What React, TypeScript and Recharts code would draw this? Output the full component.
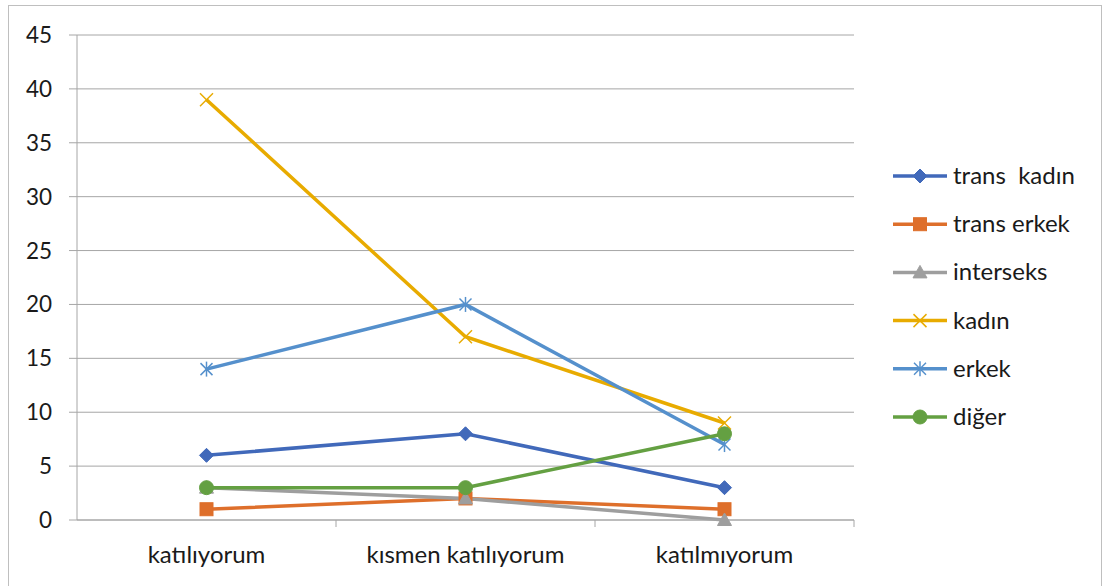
import React from 'react';
import { LineChart, Line, XAxis, YAxis, CartesianGrid } from 'recharts';

const categories = ['katılıyorum', 'kısmen katılıyorum', 'katılmıyorum'];
const yTicks = [0, 5, 10, 15, 20, 25, 30, 35, 40, 45];

const transKadin = [6, 8, 3];
const transErkek = [1, 2, 1];
const interseks = [3, 2, 0];
const kadin = [39, 17, 9];
const erkek = [14, 20, 7];
const diger = [3, 3, 8];

const seriesNames = ['trans  kadın', 'trans erkek', 'interseks', 'kadın', 'erkek', 'diğer'];
const seriesValues = [transKadin, transErkek, interseks, kadin, erkek, diger];
const seriesColors = ['#4169BA', '#DE6F2B', '#9E9E9E', '#E8AB00', '#5590CC', '#64A042'];
const seriesMarkers = ['diamond', 'square', 'triangle', 'x', 'star', 'circle'];

const data = categories.map((c, i) => {
  const row: any = { name: c };
  seriesValues.forEach((vals, s) => {
    row['s' + s] = vals[i];
  });
  return row;
});

const FONT = 'Lato, "Open Sans", sans-serif';
const W = 1109;
const H = 586;
const PLOT_LEFT = 77;
const PLOT_RIGHT = 854;
const PLOT_TOP = 35;
const PLOT_BOTTOM = 520;

function Marker({ type, cx, cy, color }: any) {
  if (cx == null || cy == null) return null;
  switch (type) {
    case 'diamond':
      return <polygon points={`${cx},${cy - 7} ${cx + 7},${cy} ${cx},${cy + 7} ${cx - 7},${cy}`} fill={color} stroke={color} strokeWidth={1} />;
    case 'square':
      return <rect x={cx - 6.5} y={cy - 6.5} width={13} height={13} fill={color} stroke={color} strokeWidth={1} />;
    case 'triangle':
      return <polygon points={`${cx},${cy - 7} ${cx + 7},${cy + 5.5} ${cx - 7},${cy + 5.5}`} fill={color} stroke={color} strokeWidth={1} />;
    case 'x':
      return (
        <g stroke={color} strokeWidth={1.5}>
          <line x1={cx - 6.5} y1={cy - 6.5} x2={cx + 6.5} y2={cy + 6.5} />
          <line x1={cx - 6.5} y1={cy + 6.5} x2={cx + 6.5} y2={cy - 6.5} />
        </g>
      );
    case 'star':
      return (
        <g stroke={color} strokeWidth={1.5}>
          <line x1={cx - 6} y1={cy - 6} x2={cx + 6} y2={cy + 6} />
          <line x1={cx - 6} y1={cy + 6} x2={cx + 6} y2={cy - 6} />
          <line x1={cx} y1={cy - 7.5} x2={cx} y2={cy + 7.5} />
        </g>
      );
    case 'circle':
    default:
      return <circle cx={cx} cy={cy} r={7} fill={color} stroke={color} strokeWidth={1} />;
  }
}

const bandWidth = (PLOT_RIGHT - PLOT_LEFT) / categories.length;

function XTick(props: any) {
  const { x, y, payload } = props;
  return (
    <g>
      <line x1={x + bandWidth / 2} y1={y} x2={x + bandWidth / 2} y2={y + 7} stroke="#A6A6A6" strokeWidth={1} />
      <text x={x} y={y + 43} textAnchor="middle" fontFamily={FONT} fontSize={24} fill="#1a1a1a">
        {payload.value}
      </text>
    </g>
  );
}

function YTick(props: any) {
  const { x, y, payload } = props;
  return (
    <text x={x} y={y + 8} textAnchor="end" fontFamily={FONT} fontSize={22.5} fill="#1a1a1a">
      {payload.value}
    </text>
  );
}

export default function App() {
  return (
    <div style={{ position: 'absolute', left: 0, top: 0, width: W, height: H, background: '#fff', overflow: 'hidden' }}>
      <div style={{ position: 'absolute', left: 8, top: 5, width: 1094, height: 600, border: '1px solid #BFBFBF', boxSizing: 'border-box' }} />
      <div style={{ position: 'absolute', left: 0, top: 0 }}>
        <LineChart
          width={W}
          height={H}
          data={data}
          margin={{ top: PLOT_TOP, right: W - PLOT_RIGHT, bottom: H - PLOT_BOTTOM - 40, left: 0 }}
        >
          <CartesianGrid vertical={false} stroke="#A6A6A6" strokeWidth={1} />
          <XAxis
            dataKey="name"
            height={40}
            tickLine={false}
            tickSize={0}
            tickMargin={0}
            padding={{ left: bandWidth / 2, right: bandWidth / 2 }}
            axisLine={{ stroke: '#A6A6A6' }}
            tick={<XTick />}
            interval={0}
          />
          <YAxis
            width={PLOT_LEFT}
            domain={[0, 45]}
            ticks={yTicks}
            interval={0}
            tickSize={8}
            tickMargin={17}
            tickLine={{ stroke: '#A6A6A6' }}
            axisLine={{ stroke: '#A6A6A6' }}
            tick={<YTick />}
          />
          {seriesNames.map((name, s) => (
            <Line
              key={name}
              dataKey={'s' + s}
              name={name}
              stroke={seriesColors[s]}
              strokeWidth={3.5}
              isAnimationActive={false}
              dot={(p: any) => <Marker key={'m' + s + '-' + p.index} type={seriesMarkers[s]} cx={p.cx} cy={p.cy} color={seriesColors[s]} />}
              activeDot={false}
            />
          ))}
        </LineChart>
      </div>
      <svg style={{ position: 'absolute', left: 0, top: 0 }} width={W} height={H}>
        {seriesNames.map((name, s) => {
          const cy = 176 + s * 48.2;
          return (
            <g key={name}>
              <line x1={893} y1={cy} x2={947} y2={cy} stroke={seriesColors[s]} strokeWidth={3.5} />
              <Marker type={seriesMarkers[s]} cx={920} cy={cy} color={seriesColors[s]} />
              <text x={953} y={cy + 8} fontFamily={FONT} fontSize={24} fill="#1a1a1a" style={{ whiteSpace: 'pre' }} xmlSpace="preserve">
                {name}
              </text>
            </g>
          );
        })}
      </svg>
    </div>
  );
}
